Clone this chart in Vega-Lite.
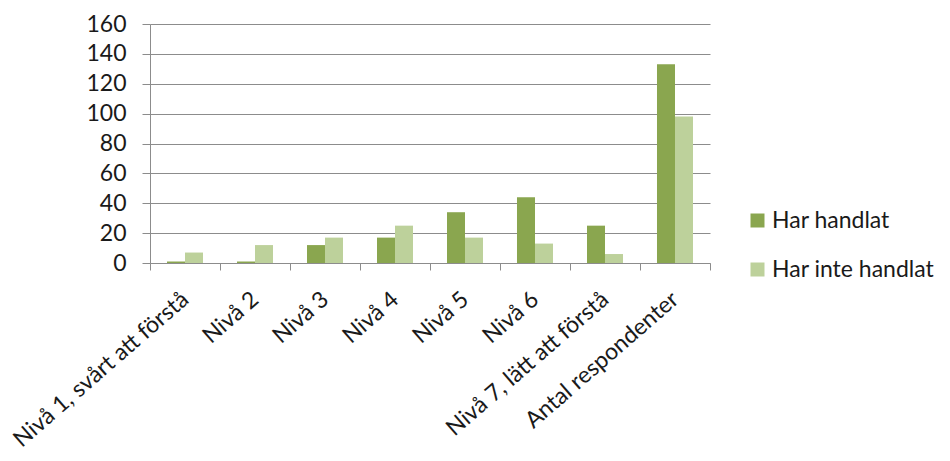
{
  "$schema": "https://vega.github.io/schema/vega-lite/v6.json",
  "width": 560,
  "height": 239,
  "autosize": {"type": "none"},
  "padding": {"left": 150, "top": 24, "right": 240, "bottom": 198},
  "background": "white",
  "config": {
    "font": "Lato",
    "view": {"stroke": null},
    "axis": {"labelFont": "Lato", "labelColor": "#1a1a1a", "labelFontSize": 23}
  },
  "data": {
    "values": [
      {"kategori": "Nivå 1, svårt att förstå", "grupp": "Har handlat", "antal": 1},
      {"kategori": "Nivå 1, svårt att förstå", "grupp": "Har inte handlat", "antal": 7},
      {"kategori": "Nivå 2", "grupp": "Har handlat", "antal": 1},
      {"kategori": "Nivå 2", "grupp": "Har inte handlat", "antal": 12},
      {"kategori": "Nivå 3", "grupp": "Har handlat", "antal": 12},
      {"kategori": "Nivå 3", "grupp": "Har inte handlat", "antal": 17},
      {"kategori": "Nivå 4", "grupp": "Har handlat", "antal": 17},
      {"kategori": "Nivå 4", "grupp": "Har inte handlat", "antal": 25},
      {"kategori": "Nivå 5", "grupp": "Har handlat", "antal": 34},
      {"kategori": "Nivå 5", "grupp": "Har inte handlat", "antal": 17},
      {"kategori": "Nivå 6", "grupp": "Har handlat", "antal": 44},
      {"kategori": "Nivå 6", "grupp": "Har inte handlat", "antal": 13},
      {"kategori": "Nivå 7, lätt att förstå", "grupp": "Har handlat", "antal": 25},
      {"kategori": "Nivå 7, lätt att förstå", "grupp": "Har inte handlat", "antal": 6},
      {"kategori": "Antal respondenter", "grupp": "Har handlat", "antal": 133},
      {"kategori": "Antal respondenter", "grupp": "Har inte handlat", "antal": 98}
    ]
  },
  "mark": {"type": "bar"},
  "encoding": {
    "x": {
      "field": "kategori",
      "type": "nominal",
      "sort": null,
      "scale": {"paddingInner": 0, "paddingOuter": 0},
      "axis": {
        "title": null,
        "labelAngle": -41,
        "labelAlign": "right",
        "labelBaseline": "middle",
        "labelPadding": 26,
        "labelLimit": 0,
        "labelOverlap": false,
        "tickBand": "extent",
        "tickSize": 7,
        "tickColor": "#8c8c8c",
        "domainColor": "#8c8c8c",
        "grid": false
      }
    },
    "xOffset": {
      "field": "grupp",
      "type": "nominal",
      "scale": {"paddingInner": 0, "paddingOuter": 0.944}
    },
    "y": {
      "field": "antal",
      "type": "quantitative",
      "scale": {"domain": [0, 160], "nice": false},
      "axis": {
        "title": null,
        "values": [0, 20, 40, 60, 80, 100, 120, 140, 160],
        "tickSize": 8,
        "labelPadding": 16,
        "tickColor": "#8c8c8c",
        "domainColor": "#8c8c8c",
        "gridColor": "#8c8c8c",
        "gridOpacity": 1
      }
    },
    "color": {
      "field": "grupp",
      "type": "nominal",
      "scale": {"domain": ["Har handlat", "Har inte handlat"], "range": ["#8aa64f", "#bdd19b"]},
      "legend": {
        "title": null,
        "orient": "none",
        "legendX": 596,
        "legendY": 185,
        "symbolType": "square",
        "symbolSize": 196,
        "symbolStrokeWidth": 0,
        "labelFontSize": 23,
        "labelColor": "#1a1a1a",
        "labelFont": "Lato",
        "labelOffset": 3,
        "labelLimit": 0,
        "rowPadding": 25
      }
    }
  }
}
